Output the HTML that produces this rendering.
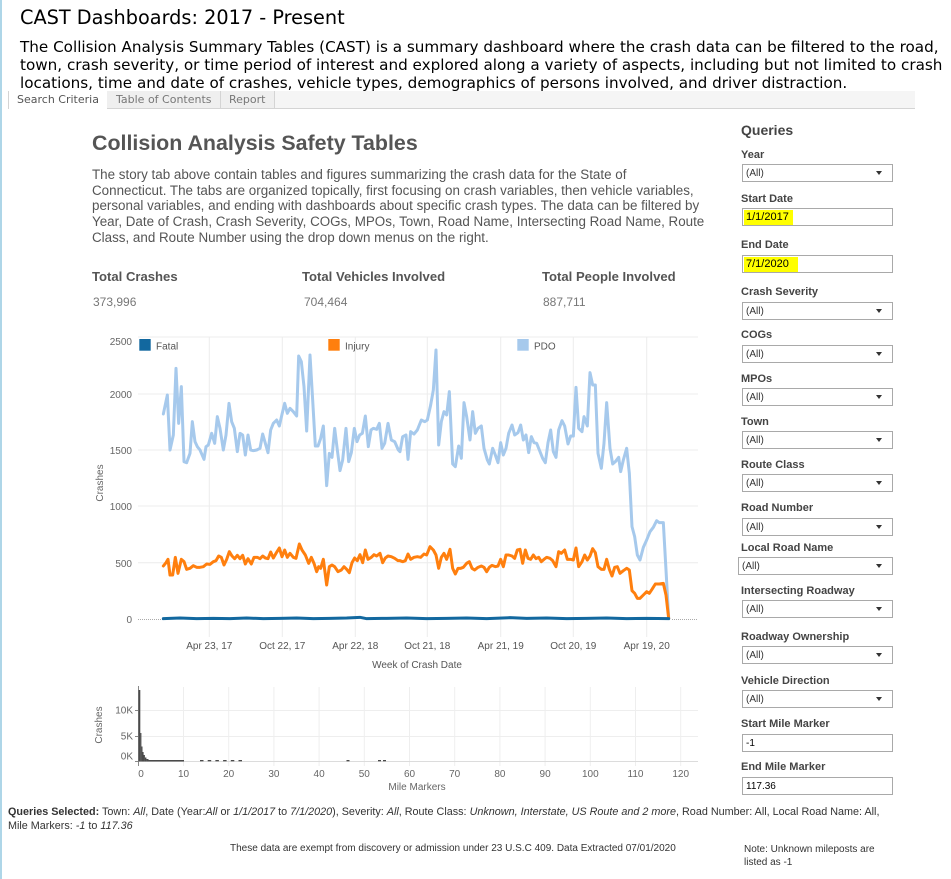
<!DOCTYPE html>
<html><head><meta charset="utf-8">
<style>
*{margin:0;padding:0;box-sizing:border-box}
html,body{width:951px;height:879px;overflow:hidden;background:#fff}
body{position:relative;font-family:"Liberation Sans",Arial,sans-serif}
.a{position:absolute;white-space:nowrap}
.hdr{font-family:"DejaVu Sans","Liberation Sans",sans-serif;color:#000}
.lbl{position:absolute;left:741px;height:14px;line-height:14px;font-size:11px;font-weight:bold;color:#444;white-space:nowrap}
.box{position:absolute;left:742px;width:151px;height:18px;border:1px solid #a9a9a9;background:#fff;font-size:10px;color:#333;line-height:17px;padding-left:3px;white-space:nowrap}
.box .arr{position:absolute;right:10px;top:6px;width:0;height:0;border-left:3px solid transparent;border-right:3px solid transparent;border-top:4px solid #333}
.hl{background:#ffff00;color:#000;font-size:11px;display:inline-block;height:15px;line-height:15px;padding:0 2px;margin-left:-2px}
</style></head><body>

<div class="a" style="left:0;top:0;width:2px;height:879px;background:#aed6e8"></div>

<div class="a hdr" style="left:20px;top:7px;font-size:19.3px;line-height:22px">CAST Dashboards: 2017 - Present</div>
<div class="a hdr" style="left:20px;top:38px;font-size:15.2px;line-height:18px">The Collision Analysis Summary Tables (CAST) is a summary dashboard where the crash data can be filtered to the road,<br>town, crash severity, or time period of interest and explored along a variety of aspects, including but not limited to crash<br>locations, time and date of crashes, vehicle types, demographics of persons involved, and driver distraction.</div>

<!-- tab strip -->
<div class="a" style="left:8px;top:91px;width:907px;height:18px;background:#f5f5f5;border-bottom:1px solid #d4d4d4;border-left:1px solid #d4d4d4"></div>
<div class="a" style="left:9px;top:91px;width:99px;height:18px;background:#fff;border-right:1px solid #d4d4d4"></div>
<div class="a" style="left:107px;top:91px;width:114px;height:17px;background:#efefef;border-right:1px solid #d4d4d4"></div>
<div class="a" style="left:221px;top:91px;width:54px;height:17px;background:#efefef;border-right:1px solid #d4d4d4"></div>
<div class="a hdr" style="left:17px;top:93px;font-size:11px;line-height:14px;color:#555">Search Criteria</div>
<div class="a hdr" style="left:116px;top:93px;font-size:11px;line-height:14px;color:#777">Table of Contents</div>
<div class="a hdr" style="left:229px;top:93px;font-size:11px;line-height:14px;color:#777">Report</div>

<!-- dashboard title -->
<div class="a" style="left:92px;top:130px;font-size:21.4px;line-height:26px;font-weight:bold;color:#555">Collision Analysis Safety Tables</div>
<div class="a" style="left:92px;top:167px;font-size:13.4px;line-height:15.7px;color:#555">The story tab above contain tables and figures summarizing the crash data for the State of<br>Connecticut. The tabs are organized topically, first focusing on crash variables, then vehicle variables,<br>personal variables, and ending with dashboards about specific crash types. The data can be filtered by<br>Year, Date of Crash, Crash Severity, COGs, MPOs, Town, Road Name, Intersecting Road Name, Route<br>Class, and Route Number using the drop down menus on the right.</div>

<div class="a" style="left:92px;top:269px;font-size:13.1px;line-height:16px;font-weight:bold;color:#555">Total Crashes</div>
<div class="a" style="left:302px;top:269px;font-size:13.1px;line-height:16px;font-weight:bold;color:#555">Total Vehicles Involved</div>
<div class="a" style="left:542px;top:269px;font-size:13.1px;line-height:16px;font-weight:bold;color:#555">Total People Involved</div>
<div class="a" style="left:93px;top:295px;font-size:12px;line-height:14px;color:#777">373,996</div>
<div class="a" style="left:304px;top:295px;font-size:12px;line-height:14px;color:#777">704,464</div>
<div class="a" style="left:543px;top:295px;font-size:12px;line-height:14px;color:#777">887,711</div>

<!-- charts -->
<svg class="a" style="left:0;top:0" width="951" height="879" viewBox="0 0 951 879" font-family="Liberation Sans, Arial, sans-serif">
  <!-- main grid -->
  <g stroke="#ececec" stroke-width="1">
    <line x1="138" y1="337" x2="698" y2="337"/>
    <line x1="138" y1="394" x2="698" y2="394"/>
    <line x1="138" y1="450" x2="698" y2="450"/>
    <line x1="138" y1="506" x2="698" y2="506"/>
    <line x1="138" y1="562.7" x2="698" y2="562.7"/>
    <line x1="209.3" y1="337" x2="209.3" y2="637"/>
    <line x1="282.3" y1="337" x2="282.3" y2="637"/>
    <line x1="355.3" y1="337" x2="355.3" y2="637"/>
    <line x1="427.3" y1="337" x2="427.3" y2="637"/>
    <line x1="500.7" y1="337" x2="500.7" y2="637"/>
    <line x1="573.3" y1="337" x2="573.3" y2="637"/>
    <line x1="646.7" y1="337" x2="646.7" y2="637"/>
  </g>
  <g stroke="#aaa" stroke-width="1" stroke-dasharray="1,1">
    <line x1="138" y1="619.5" x2="163" y2="619.5"/>
    <line x1="672" y1="619.5" x2="698" y2="619.5"/>
  </g>
  <g fill="#666" font-size="10" text-anchor="end">
    <text x="132" y="345">2500</text>
    <text x="132" y="398">2000</text>
    <text x="132" y="454">1500</text>
    <text x="132" y="510">1000</text>
    <text x="132" y="567">500</text>
    <text x="132" y="623">0</text>
  </g>
  <text transform="translate(103,483) rotate(-90)" fill="#666" font-size="10" text-anchor="middle">Crashes</text>
  <g fill="#555" font-size="10" text-anchor="middle">
    <text x="209.3" y="649">Apr 23, 17</text>
    <text x="282.3" y="649">Oct 22, 17</text>
    <text x="355.3" y="649">Apr 22, 18</text>
    <text x="427.3" y="649">Oct 21, 18</text>
    <text x="500.7" y="649">Apr 21, 19</text>
    <text x="573.3" y="649">Oct 20, 19</text>
    <text x="646.7" y="649">Apr 19, 20</text>
    <text x="417" y="668">Week of Crash Date</text>
  </g>
  <!-- legend -->
  <rect x="139.3" y="339" width="11.4" height="11.7" fill="#12689f"/>
  <text x="156" y="349.5" font-size="10" fill="#555">Fatal</text>
  <rect x="328.3" y="339" width="11.4" height="11.7" fill="#ff7f0e"/>
  <text x="345" y="349.5" font-size="10" fill="#555">Injury</text>
  <rect x="517.3" y="339" width="11.4" height="11.7" fill="#a6c9ec"/>
  <text x="534" y="349.5" font-size="10" fill="#555">PDO</text>

  <g transform="translate(80,320) scale(0.333333)" fill="none" stroke-linejoin="round" stroke-linecap="round">
    <polyline vector-effect="non-scaling-stroke" stroke="#a6c9ec" stroke-width="3" points="250,282 262,225 270,390 280,345 288,145 296,310 304,200 312,425 320,428 330,400 337,305 345,365 352,380 360,390 372,418 378,380 385,375 395,340 404,370 412,290 420,325 430,390 438,345 447,250 455,305 463,325 472,395 480,340 488,345 496,405 504,345 512,390 520,392 530,390 540,385 548,342 556,370 564,398 572,330 580,310 590,300 598,318 606,283 614,250 622,280 630,265 640,275 650,288 656,108 664,125 672,200 680,333 690,105 698,240 706,378 714,378 722,355 730,318 740,497 748,400 756,412 764,325 772,390 780,452 788,420 798,325 806,425 814,398 823,325 831,365 839,345 847,340 856,288 865,380 873,330 880,325 890,328 898,310 906,385 914,370 924,310 934,360 944,365 955,390 960,395 968,350 978,345 984,418 992,335 1002,342 1012,330 1024,300 1034,305 1042,300 1052,255 1060,210 1068,90 1076,375 1084,305 1092,275 1100,285 1108,215 1118,432 1126,440 1136,378 1144,415 1152,248 1160,290 1170,360 1178,275 1186,340 1194,325 1204,318 1212,385 1222,420 1228,432 1238,385 1246,405 1254,428 1262,368 1270,405 1278,385 1286,340 1296,315 1304,345 1314,338 1322,315 1330,360 1338,345 1346,398 1354,350 1362,368 1370,370 1378,390 1388,415 1396,428 1404,368 1412,330 1420,395 1428,412 1436,330 1446,302 1454,318 1464,372 1472,348 1480,348 1488,202 1496,325 1506,335 1512,290 1522,318 1530,158 1538,195 1546,195 1554,400 1564,445 1572,370 1580,248 1590,385 1598,432 1606,425 1616,412 1622,455 1630,420 1640,385 1648,460 1656,620 1664,650 1672,705 1680,720 1690,682 1700,660 1710,635 1720,622 1730,602 1738,608 1750,608 1758,750 1766,895"/>
    <polyline vector-effect="non-scaling-stroke" stroke="#ff7f0e" stroke-width="3" points="250,738 258,728 264,718 270,765 278,765 286,712 294,760 304,718 312,725 320,748 330,745 340,737 350,742 360,742 370,740 380,732 390,733 400,725 408,722 416,708 424,712 432,735 440,718 448,695 456,708 464,716 472,706 480,716 488,706 496,732 504,716 514,732 522,712 532,712 540,716 548,708 556,714 564,716 572,696 580,714 588,700 598,684 606,710 614,690 622,712 630,700 640,712 648,715 658,672 666,690 676,705 686,730 694,712 702,730 710,755 716,740 722,745 730,718 740,795 748,740 756,735 764,740 774,755 784,750 792,740 800,748 808,758 816,728 824,714 832,722 840,704 848,728 856,690 864,718 874,712 882,704 890,708 900,700 908,728 916,714 924,708 934,710 944,715 954,722 960,722 968,725 976,722 984,702 992,718 1002,712 1012,710 1022,712 1032,702 1040,705 1050,680 1060,690 1068,705 1076,745 1084,712 1092,700 1100,718 1110,688 1118,745 1126,762 1134,745 1142,745 1150,742 1160,730 1168,725 1176,745 1184,750 1194,742 1204,738 1212,742 1220,755 1228,742 1236,736 1246,740 1254,738 1262,718 1270,740 1278,705 1286,705 1296,708 1304,715 1312,690 1320,688 1328,730 1336,690 1344,715 1352,718 1360,705 1368,716 1376,712 1384,725 1392,718 1400,712 1410,715 1418,722 1428,740 1436,695 1444,700 1454,690 1462,718 1472,718 1480,720 1488,684 1496,740 1506,725 1514,705 1522,720 1530,708 1538,686 1546,698 1554,740 1564,748 1572,748 1580,718 1588,748 1596,768 1604,742 1612,740 1620,760 1630,752 1640,745 1648,750 1656,812 1664,820 1672,835 1680,835 1690,825 1700,815 1708,820 1716,808 1726,792 1738,792 1750,790 1758,825 1766,895"/>
    <polyline vector-effect="non-scaling-stroke" stroke="#12689f" stroke-width="3" points="250,896 300,894 350,896 400,895 450,896 500,894 550,896 600,895 650,894 700,896 750,895 800,894 840,892 860,896 920,895 980,894 1040,896 1100,895 1160,894 1220,896 1290,893 1340,895 1400,894 1460,896 1520,895 1580,894 1640,896 1700,895 1766,896"/>
  </g>

  <!-- mini chart -->
  <g stroke="#eeeeee" stroke-width="1">
    <line x1="138" y1="710.5" x2="698" y2="710.5"/>
    <line x1="138" y1="736.5" x2="698" y2="736.5"/>
    <line x1="183.5" y1="687" x2="183.5" y2="766"/>
    <line x1="228.7" y1="687" x2="228.7" y2="766"/>
    <line x1="273.9" y1="687" x2="273.9" y2="766"/>
    <line x1="319.1" y1="687" x2="319.1" y2="766"/>
    <line x1="364.3" y1="687" x2="364.3" y2="766"/>
    <line x1="409.5" y1="687" x2="409.5" y2="766"/>
    <line x1="454.7" y1="687" x2="454.7" y2="766"/>
    <line x1="499.9" y1="687" x2="499.9" y2="766"/>
    <line x1="545.1" y1="687" x2="545.1" y2="766"/>
    <line x1="590.3" y1="687" x2="590.3" y2="766"/>
    <line x1="635.5" y1="687" x2="635.5" y2="766"/>
    <line x1="680.7" y1="687" x2="680.7" y2="766"/>
  </g>
  <line x1="138" y1="761.5" x2="698" y2="761.5" stroke="#dcdcdc" stroke-width="1"/>
  <g stroke="#888" stroke-width="1">
    <line x1="138.5" y1="686" x2="138.5" y2="766"/>
    <line x1="135" y1="710.5" x2="138.5" y2="710.5"/>
    <line x1="135" y1="736.5" x2="138.5" y2="736.5"/>
    <line x1="135" y1="761.5" x2="138.5" y2="761.5"/>
  </g>
  <g fill="#4a4a4a">
    <rect x="138.5" y="690" width="1.8" height="71.5"/>
    <rect x="140.2" y="733" width="1.2" height="28.5"/>
    <rect x="141.3" y="746.5" width="1.2" height="15"/>
    <rect x="142.4" y="752" width="1.2" height="9.5"/>
    <rect x="143.5" y="755" width="1.4" height="6.5"/>
    <rect x="144.8" y="757.5" width="1.6" height="4"/>
    <rect x="146.3" y="759" width="2.2" height="2.5"/>
    <rect x="148.4" y="760" width="35.6" height="1.5"/>
    <rect x="200" y="760" width="3.5" height="1.3"/>
    <rect x="207.7" y="760" width="3.5" height="1.3"/>
    <rect x="215.4" y="760" width="3.5" height="1.3"/>
    <rect x="223.1" y="760" width="3.5" height="1.3"/>
    <rect x="230.8" y="760" width="3.5" height="1.3"/>
    <rect x="238.5" y="760" width="3.5" height="1.3"/>
    <rect x="346.5" y="760" width="3" height="1.3"/>
    <rect x="378" y="760" width="3" height="1.3"/>
    <rect x="383" y="760" width="3" height="1.3"/>
  </g>
  <g fill="#666" font-size="10" text-anchor="end">
    <text x="133" y="713.5">10K</text>
    <text x="133" y="739.5">5K</text>
    <text x="133" y="759.5">0K</text>
  </g>
  <text transform="translate(102,725) rotate(-90)" fill="#666" font-size="10" text-anchor="middle">Crashes</text>
  <g fill="#666" font-size="10" text-anchor="middle">
    <text x="141" y="777">0</text>
    <text x="183.5" y="777">10</text>
    <text x="228.7" y="777">20</text>
    <text x="273.9" y="777">30</text>
    <text x="319.1" y="777">40</text>
    <text x="364.3" y="777">50</text>
    <text x="409.5" y="777">60</text>
    <text x="454.7" y="777">70</text>
    <text x="499.9" y="777">80</text>
    <text x="545.1" y="777">90</text>
    <text x="590.3" y="777">100</text>
    <text x="635.5" y="777">110</text>
    <text x="680.7" y="777">120</text>
    <text x="417" y="790">Mile Markers</text>
  </g>
</svg>

<!-- right panel -->
<div class="a" style="left:741px;top:121px;font-size:14px;line-height:18px;font-weight:bold;color:#444">Queries</div>

<div class="lbl" style="top:148px">Year</div>
<div class="box" style="top:164px">(All)<span class="arr"></span></div>

<div class="lbl" style="top:192px">Start Date</div>
<div class="box" style="top:208px;padding-left:1px"><span class="hl" style="width:49px;margin-left:0">1/1/2017</span></div>

<div class="lbl" style="top:238px">End Date</div>
<div class="box" style="top:255px;padding-left:1px"><span class="hl" style="width:54px;margin-left:0">7/1/2020</span></div>

<div class="lbl" style="top:285px">Crash Severity</div>
<div class="box" style="top:302px">(All)<span class="arr"></span></div>

<div class="lbl" style="top:328px">COGs</div>
<div class="box" style="top:345px">(All)<span class="arr"></span></div>

<div class="lbl" style="top:372px">MPOs</div>
<div class="box" style="top:388px">(All)<span class="arr"></span></div>

<div class="lbl" style="top:415px">Town</div>
<div class="box" style="top:431px">(All)<span class="arr"></span></div>

<div class="lbl" style="top:458px">Route Class</div>
<div class="box" style="top:474px">(All)<span class="arr"></span></div>

<div class="lbl" style="top:501px">Road Number</div>
<div class="box" style="top:518px">(All)<span class="arr"></span></div>

<div class="lbl" style="top:541px">Local Road Name</div>
<div class="box" style="top:557px;left:738px;width:155px">(All)<span class="arr"></span></div>

<div class="lbl" style="top:584px">Intersecting Roadway</div>
<div class="box" style="top:600px">(All)<span class="arr"></span></div>

<div class="lbl" style="top:630px">Roadway Ownership</div>
<div class="box" style="top:646px">(All)<span class="arr"></span></div>

<div class="lbl" style="top:674px">Vehicle Direction</div>
<div class="box" style="top:690px">(All)<span class="arr"></span></div>

<div class="lbl" style="top:717px">Start Mile Marker</div>
<div class="box" style="top:734px;color:#000">-1</div>

<div class="lbl" style="top:760px">End Mile Marker</div>
<div class="box" style="top:777px;color:#000">117.36</div>

<!-- footer -->
<div class="a" style="left:8px;top:805px;font-size:10.8px;line-height:14px;color:#333"><b>Queries Selected:</b> Town: <i>All</i>, Date (Year:<i>All</i> or <i>1/1/2017</i> to <i>7/1/2020</i>), Severity: <i>All</i>, Route Class: <i>Unknown, Interstate, US Route and 2 more</i>, Road Number: All, Local Road Name: All,<br>Mile Markers: <i>-1</i> to <i>117.36</i></div>
<div class="a" style="left:230px;top:842px;font-size:10px;line-height:13px;color:#333">These data are exempt from discovery or admission under 23 U.S.C 409. Data Extracted 07/01/2020</div>
<div class="a" style="left:744px;top:843px;font-size:10px;line-height:13px;color:#333">Note: Unknown mileposts are<br>listed as -1</div>

</body></html>
